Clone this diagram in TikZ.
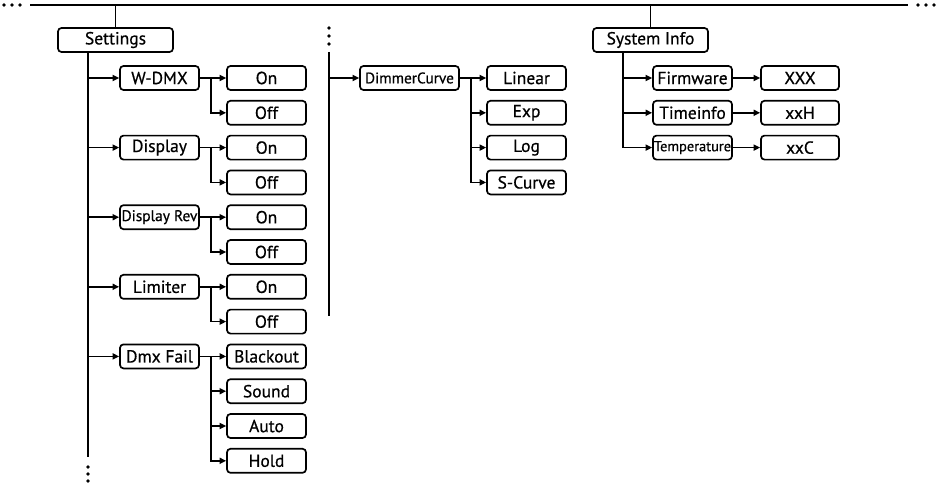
\documentclass[tikz,border=0pt]{standalone}
\usepackage{fontspec}
\setmainfont{PT Sans}[FakeBold=0.6]
\usetikzlibrary{arrows.meta}
\begin{document}
\begin{tikzpicture}[x=1pt,y=-1pt,
  box/.style={draw,line width=1.7pt,rounded corners=3.5pt,minimum height=24pt,inner sep=0pt,font=\fontsize{17.5}{20}\selectfont},
  wide/.style={box,minimum width=115pt},
  mid/.style={box,minimum width=79pt},
  conn/.style={line width=1.6pt},
  arr/.style={conn,-{Triangle[length=6.5pt,width=6pt]}},
  dot/.style={fill,circle,inner sep=0pt,minimum size=3.6pt}]
\useasboundingbox (0,0) rectangle (938,487);
% top line
\coordinate (tl) at (30,5);
\coordinate (tr) at (908,5);
\draw[conn] (tl) -- (tr);
\foreach \x [count=\i] in {4,12,20} \node[dot] (ld\i) at (\x,5) {};
\foreach \x [count=\i] in {918,926,934} \node[dot] (rd\i) at (\x,5) {};
% Settings column
\node[wide] (settings) at (115.5,40) {Settings};
\draw[conn] (settings.north) -- (settings.north |- tl);
\coordinate (mv) at (88,52);
\coordinate (mvend) at (88,457);
\draw[conn] (mv) -- (mvend);
\foreach \y [count=\i] in {467,474,481} \node[dot] (bd\i) at (88,\y) {};
\node[mid] (wdmx) at (159.5,{78}) {W-DMX};
\node[mid] (disp) at (159.5,{78+34.8*2}) {Display};
\node[mid] (disprev) at (159.5,{78+34.8*4}) {\fontsize{15.4}{17}\selectfont Display Rev};
\node[mid] (lim) at (159.5,{78+34.8*6}) {Limiter};
\node[mid] (dmxf) at (159.5,{78+34.8*8}) {Dmx Fail};
\foreach \n in {wdmx,disp,disprev,lim,dmxf} \draw[arr] (\n.west -| mv) -- (\n.west);
% on/off
\node[mid] (on1) at (266.5,{78}) {On};
\node[mid] (off1) at (266.5,{78+34.8}) {Off};
\node[mid] (on2) at (266.5,{78+34.8*2}) {On};
\node[mid] (off2) at (266.5,{78+34.8*3}) {Off};
\node[mid] (on3) at (266.5,{78+34.8*4}) {On};
\node[mid] (off3) at (266.5,{78+34.8*5}) {Off};
\node[mid] (on4) at (266.5,{78+34.8*6}) {On};
\node[mid] (off4) at (266.5,{78+34.8*7}) {Off};
\node[mid] (black) at (266.5,{78+34.8*8}) {Blackout};
\node[mid] (sound) at (266.5,{78+34.8*9}) {Sound};
\node[mid] (auto) at (266.5,{78+34.8*10}) {Auto};
\node[mid] (hold) at (266.5,{78+34.8*11}) {Hold};
\draw[arr] (wdmx.east) -- (on1.west);
\draw[arr] (wdmx.east) -- ++(11,0) |- (off1.west);
\draw[arr] (disp.east) -- (on2.west);
\draw[arr] (disp.east) -- ++(11,0) |- (off2.west);
\draw[arr] (disprev.east) -- (on3.west);
\draw[arr] (disprev.east) -- ++(11,0) |- (off3.west);
\draw[arr] (lim.east) -- (on4.west);
\draw[arr] (lim.east) -- ++(11,0) |- (off4.west);
\draw[arr] (dmxf.east) -- (black.west);
\foreach \n in {sound,auto,hold} \draw[arr] (dmxf.east) -- ++(11,0) |- (\n.west);
% middle column
\foreach \y [count=\i] in {28,36,44} \node[dot] (md\i) at (329,\y) {};
\coordinate (cv) at (329,52);
\coordinate (cvend) at (329,316);
\draw[conn] (cv) -- (cvend);
\node[box,minimum width=99pt] (dim) at (409.5,78) {\fontsize{15.3}{17}\selectfont DimmerCurve};
\draw[arr] (dim.west -| cv) -- (dim.west);
\node[mid] (lin) at (526.5,{78}) {Linear};
\node[mid] (exp) at (526.5,{78+34.8}) {Exp};
\node[mid] (log) at (526.5,{78+34.8*2}) {Log};
\node[mid] (scurve) at (526.5,{78+34.8*3}) {S-Curve};
\draw[arr] (dim.east) -- (lin.west);
\foreach \n in {exp,log,scurve} \draw[arr] (dim.east) -- ++(11,0) |- (\n.west);
% right column
\node[wide] (sys) at (650.5,40) {System Info};
\draw[conn] (sys.north) -- (sys.north |- tl);
\coordinate (sv) at (623,52);
\node[mid] (firm) at (692.5,{78}) {Firmware};
\node[mid] (time) at (692.5,{78+34.8}) {Timeinfo};
\node[mid] (temp) at (692.5,{78+34.8*2}) {\fontsize{14.4}{16}\selectfont Temperature};
\draw[conn] (sv) -- (sv |- temp.west);
\foreach \n in {firm,time,temp} \draw[arr] (\n.west -| sv) -- (\n.west);
\node[box,minimum width=78pt] (xxx) at (800,{78}) {XXX};
\node[box,minimum width=78pt] (xxh) at (800,{78+34.8}) {xxH};
\node[box,minimum width=78pt] (xxc) at (800,{78+34.8*2}) {xxC};
\draw[arr] (firm) -- (xxx);
\draw[arr] (time) -- (xxh);
\draw[arr] (temp) -- (xxc);
\end{tikzpicture}
\end{document}
